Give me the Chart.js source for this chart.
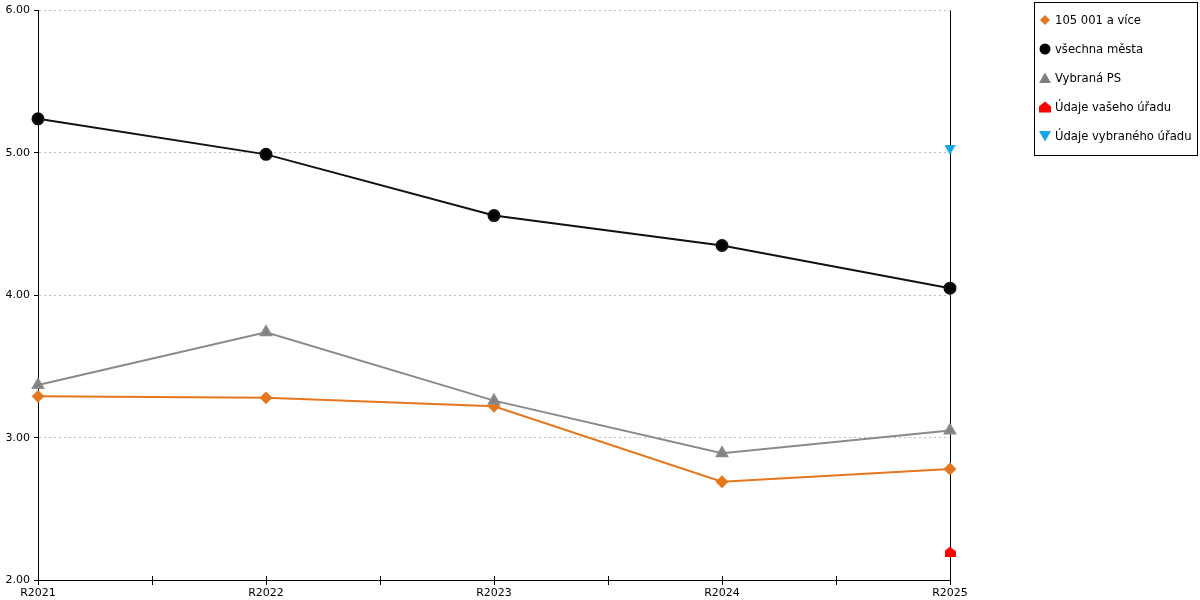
<!DOCTYPE html>
<html>
<head>
<meta charset="utf-8">
<script src="https://cdn.jsdelivr.net/npm/chart.js@4"></script>
<style>
  html, body { margin:0; padding:0; background:#fff; }
  #wrap { position:relative; width:1200px; height:600px; }
  #legend { position:absolute; left:1034px; top:2px; width:164px; height:154px; border:1px solid #000; box-sizing:border-box; font-family:"DejaVu Sans", Verdana, sans-serif; font-size:11.6px; color:#000; }
  .row { position:absolute; left:4px; height:16px; display:flex; align-items:center; white-space:nowrap; }
  .row svg { width:12px; height:12px; margin-right:4px; }
</style>
</head>
<body>
<div id="wrap">
  <canvas id="c" width="1200" height="600"></canvas>
  <div id="legend"></div>
</div>
<script>
const categories = ["R2021", "R2022", "R2023", "R2024", "R2025"];
const yTicks = [2, 3, 4, 5, 6];
const group105001 = [3.29, 3.28, 3.22, 2.69, 2.78];
const allCities = [5.24, 4.99, 4.56, 4.35, 4.05];
const selectedPS = [3.37, 3.74, 3.26, 2.89, 3.05];
const yourOffice = [null, null, null, null, 2.20];
const selectedOffice = [null, null, null, null, 5.02];
const seriesNames = ["105 001 a více", "všechna města", "Vybraná PS", "Údaje vašeho úřadu", "Údaje vybraného úřadu"];

const toPts = arr => arr.map((v, i) => ({x: i, y: v})).filter(p => p.y !== null);

function makeMarker(w, h, color, pts) {
  const cv = document.createElement('canvas');
  cv.width = w; cv.height = h;
  const g = cv.getContext('2d');
  g.fillStyle = color;
  g.beginPath();
  pts.forEach((p, i) => i ? g.lineTo(p[0], p[1]) : g.moveTo(p[0], p[1]));
  g.closePath();
  g.fill();
  return cv;
}
const house = makeMarker(11, 10, '#ff0000', [[5.5, 0], [11, 4.5], [11, 10], [0, 10], [0, 4.5]]);
const downTri = makeMarker(11, 10, '#14a5e6', [[0, 0], [11, 0], [5.5, 10]]);

const FONT = {family: '"DejaVu Sans", Verdana, sans-serif', size: 11};

const crossTicks = {
  id: 'crossTicks',
  afterDraw(chart) {
    const x = chart.scales.x, ctx = chart.ctx, b = chart.chartArea.bottom;
    ctx.save();
    ctx.strokeStyle = '#000'; ctx.lineWidth = 1;
    x.ticks.forEach(t => {
      const px = Math.round(x.getPixelForValue(t.value)) + 0.5;
      ctx.beginPath(); ctx.moveTo(px, b - 4); ctx.lineTo(px, b); ctx.stroke();
    });
    ctx.restore();
  }
};

new Chart(document.getElementById('c'), {
  type: 'line',
  data: {
    datasets: [
      { label: seriesNames[0], data: toPts(group105001), borderColor: '#e5771e', backgroundColor: '#e5771e', borderWidth: 2, pointStyle: 'rectRot', pointRadius: 5, pointHoverRadius: 5, order: 3, clip: false },
      { label: seriesNames[1], data: toPts(allCities), borderColor: '#111', backgroundColor: '#000', borderWidth: 2, pointStyle: 'circle', pointRadius: 5.5, pointHoverRadius: 5.5, order: 1, clip: false },
      { label: seriesNames[2], data: toPts(selectedPS), borderColor: '#8a8a8a', backgroundColor: '#808080', borderWidth: 2, pointStyle: 'triangle', pointRadius: 6, pointHoverRadius: 6, order: 2, clip: false },
      { label: seriesNames[3], data: toPts(yourOffice), showLine: false, pointStyle: house, pointRadius: 6, backgroundColor: '#ff0000', borderColor: '#ff0000', order: 0, clip: false },
      { label: seriesNames[4], data: toPts(selectedOffice), showLine: false, pointStyle: downTri, pointRadius: 6, backgroundColor: '#14a5e6', borderColor: '#14a5e6', order: 0, clip: false }
    ]
  },
  plugins: [crossTicks],
  options: {
    responsive: false,
    animation: false,
    devicePixelRatio: 1,
    layout: { padding: { top: 10, right: 250, left: 0, bottom: 0 } },
    plugins: { legend: { display: false }, tooltip: { enabled: false } },
    elements: { line: { tension: 0 }, point: { borderWidth: 0 } },
    scales: {
      x: {
        type: 'linear', min: 0, max: categories.length - 1,
        afterBuildTicks: s => { const t = []; for (let v = 0; v <= categories.length - 1 + 1e-9; v += 0.5) t.push({value: v}); s.ticks = t; },
        afterFit: s => { s.height = 20; },
        ticks: { autoSkip: false, maxRotation: 0, padding: 2, color: '#000', font: FONT,
          callback: v => Number.isInteger(v) ? categories[v] : '' },
        grid: { drawOnChartArea: true, drawTicks: true, tickLength: 5, tickColor: '#000',
          color: c => (c.tick && c.tick.value === categories.length - 1) ? '#000' : 'rgba(0,0,0,0)', lineWidth: 1 },
        border: { display: true, color: '#000', width: 1 }
      },
      y: {
        min: yTicks[0], max: yTicks[yTicks.length - 1],
        afterBuildTicks: s => { s.ticks = yTicks.map(v => ({value: v})); },
        afterFit: s => { s.width = 38; },
        ticks: { padding: 4, color: '#000', font: FONT, callback: v => Number(v).toFixed(2) },
        grid: { color: '#bbbbbb', tickColor: '#000', tickLength: 4, tickBorderDash: [], lineWidth: 1 },
        border: { display: true, color: '#000', width: 1, dash: [2, 3] }
      }
    }
  }
});

// HTML legend
const markers = [
  '<svg viewBox="0 0 12 12"><polygon points="6,1 11,6 6,11 1,6" fill="#e5771e"/></svg>',
  '<svg viewBox="0 0 12 12"><circle cx="6" cy="6" r="5.5" fill="#000"/></svg>',
  '<svg viewBox="0 0 12 12"><polygon points="6,0.5 12,11 0,11" fill="#808080"/></svg>',
  '<svg viewBox="0 0 12 12"><polygon points="6,0.5 12,5.5 12,11.5 0,11.5 0,5.5" fill="#ff0000"/></svg>',
  '<svg viewBox="0 0 12 12"><polygon points="0,1 12,1 6,11.5" fill="#14a5e6"/></svg>'
];
const lg = document.getElementById('legend');
seriesNames.forEach((n, i) => {
  const r = document.createElement('div');
  r.className = 'row';
  r.style.top = (9 + i * 29) + 'px';
  r.innerHTML = markers[i] + '<span>' + n + '</span>';
  lg.appendChild(r);
});
</script>
</body>
</html>
